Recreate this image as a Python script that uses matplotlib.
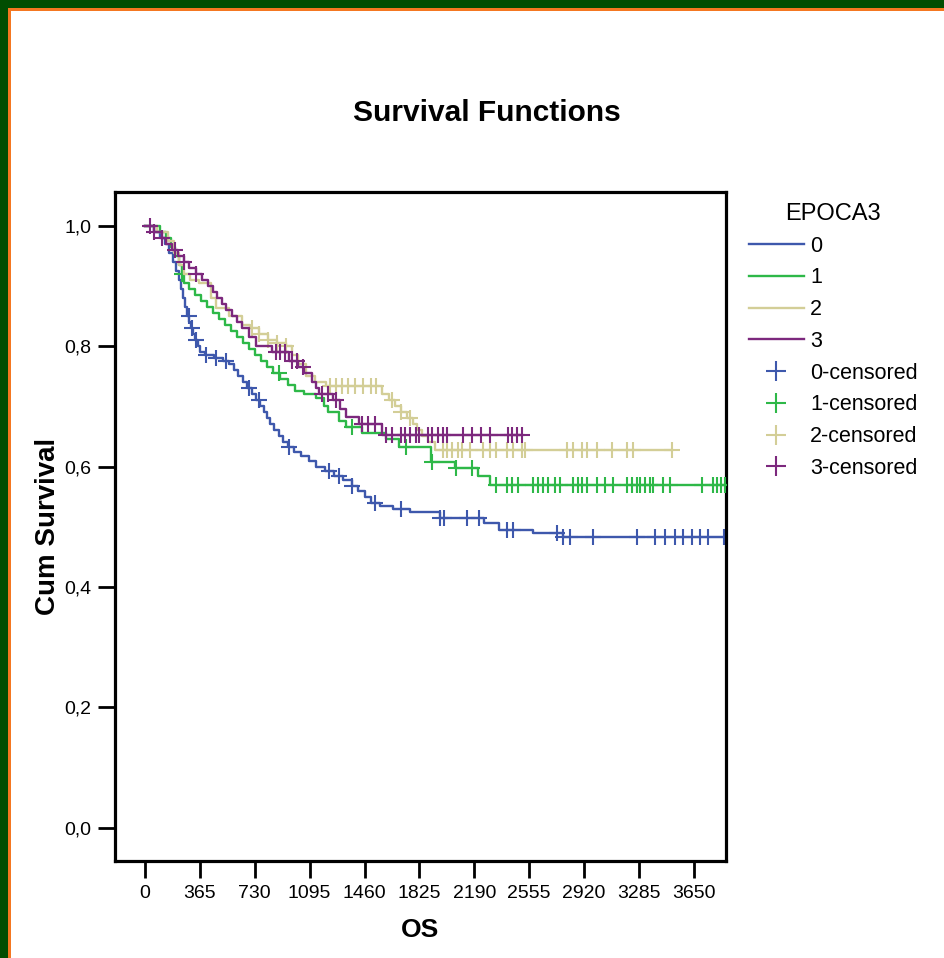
import numpy as np
import matplotlib
matplotlib.use("Agg")
import matplotlib.pyplot as plt
from matplotlib.patches import Rectangle
from matplotlib.lines import Line2D

plt.rcParams['font.family'] = ['Liberation Sans', 'DejaVu Sans']

# ---- data -------------------------------------------------------------
groups = ['0', '1', '2', '3']
colors = ['#3E58AC', '#2EB848', '#D3CE97', '#7C287D']

# event times (days) and survival after each step
t0 = [0, 60, 100, 130, 160, 185, 205, 226, 240, 255, 265, 280, 295, 306, 320,
      335, 350, 365, 400, 460, 520, 560, 590, 620, 650, 680, 710, 740, 765,
      790, 810, 830, 860, 890, 920, 950, 990, 1040, 1090, 1140, 1200, 1260,
      1320, 1380, 1420, 1460, 1500, 1560, 1650, 1760, 1959, 2258, 2358, 2578,
      2778]
s0 = [1.0, 0.99, 0.98, 0.97, 0.955, 0.94, 0.925, 0.91, 0.895, 0.88, 0.865,
      0.85, 0.84, 0.83, 0.82, 0.81, 0.80, 0.79, 0.785, 0.78, 0.775, 0.77,
      0.76, 0.75, 0.74, 0.73, 0.72, 0.71, 0.70, 0.69, 0.68, 0.67, 0.66, 0.65,
      0.64, 0.632, 0.625, 0.617, 0.61, 0.60, 0.592, 0.585, 0.577, 0.568,
      0.56, 0.55, 0.54, 0.535, 0.53, 0.525, 0.514, 0.506, 0.495, 0.49, 0.483]
c0 = [293, 313, 340, 406, 473, 540, 693, 760, 959, 1226, 1290, 1380, 1530,
      1700, 1959, 1992, 2139, 2225, 2405, 2445, 2738, 2778, 2825, 2978, 3271,
      3391, 3458, 3524, 3578, 3638, 3691, 3744, 3850]

t1 = [0, 100, 140, 170, 200, 226, 245, 260, 290, 330, 370, 410, 450, 490,
      530, 570, 610, 650, 690, 730, 770, 810, 850, 900, 950, 1000, 1060, 1140,
      1190, 1220, 1290, 1340, 1446, 1600, 1692, 1905, 2059, 2212, 2292]
s1 = [1.0, 0.99, 0.98, 0.965, 0.95, 0.935, 0.92, 0.905, 0.895, 0.885, 0.875,
      0.865, 0.855, 0.845, 0.835, 0.825, 0.815, 0.805, 0.795, 0.785, 0.775,
      0.765, 0.755, 0.745, 0.735, 0.725, 0.72, 0.714, 0.70, 0.69, 0.675,
      0.665, 0.656, 0.645, 0.633, 0.608, 0.597, 0.584, 0.570]
c1 = [246, 893, 1379, 1739, 1912, 2072, 2178, 2338, 2405, 2438, 2478, 2578,
      2612, 2645, 2678, 2725, 2758, 2845, 2878, 2905, 2938, 3005, 3058, 3111,
      3205, 3238, 3271, 3291, 3325, 3358, 3378, 3444, 3491, 3704, 3778, 3804,
      3831, 3860]

t2 = [0, 80, 150, 190, 226, 260, 300, 360, 440, 473, 560, 646, 700, 760, 820,
      880, 939, 980, 1020, 1073, 1130, 1206, 1578, 1620, 1660, 1700, 1740,
      1780, 1810, 1840, 1880, 1932]
s2 = [1.0, 0.99, 0.975, 0.955, 0.935, 0.92, 0.91, 0.905, 0.88, 0.864, 0.85,
      0.835, 0.83, 0.82, 0.81, 0.805, 0.80, 0.785, 0.77, 0.75, 0.74, 0.733,
      0.72, 0.71, 0.70, 0.69, 0.68, 0.67, 0.66, 0.65, 0.64, 0.628]
c2 = [713, 760, 820, 880, 939, 1230, 1270, 1310, 1350, 1400, 1450, 1500,
      1539, 1640, 1700, 1760, 1979, 2010, 2040, 2080, 2110, 2159, 2245, 2292,
      2338, 2405, 2445, 2505, 2525, 2805, 2845, 2905, 2938, 3005, 3105, 3205,
      3245, 3504]

t3 = [0, 60, 110, 140, 180, 220, 260, 293, 340, 380, 420, 450, 480, 510, 540,
      580, 610, 646, 690, 740, 846, 960, 1020, 1060, 1113, 1140, 1160, 1250,
      1300, 1340, 1426, 1578]
s3 = [1.0, 0.99, 0.98, 0.97, 0.96, 0.95, 0.94, 0.93, 0.92, 0.91, 0.90, 0.89,
      0.88, 0.87, 0.86, 0.85, 0.84, 0.83, 0.815, 0.80, 0.79, 0.775, 0.765,
      0.755, 0.74, 0.73, 0.72, 0.71, 0.695, 0.683, 0.67, 0.653]
c3 = [30, 60, 110, 200, 260, 340, 870, 900, 930, 980, 1010, 1050, 1180, 1220,
      1270, 1440, 1480, 1530, 1600, 1640, 1700, 1730, 1760, 1800, 1820, 1880,
      1910, 1950, 1980, 2010, 2112, 2172, 2238, 2292, 2412, 2440, 2472, 2505]

times = [t0, t1, t2, t3]
surv = [s0, s1, s2, s3]
cens = [c0, c1, c2, c3]

xticks = [0, 365, 730, 1095, 1460, 1825, 2190, 2555, 2920, 3285, 3650]
yticks = [0.0, 0.2, 0.4, 0.6, 0.8, 1.0]

# ---- figure -------------------------------------------------------------
W, H = 944, 958
fig = plt.figure(figsize=(W / 100, H / 100), dpi=100)
fig.patch.set_facecolor('white')

# dark green frame with orange edge (top and left)
def px_rect(x, y, w, h, c):
    fig.add_artist(Rectangle((x / W, 1 - (y + h) / H), w / W, h / H,
                             transform=fig.transFigure, color=c, lw=0))

px_rect(0, 0, W, 11, '#f47721')
px_rect(0, 0, 11, H, '#f47721')
px_rect(0, 0, W, 8, '#014d01')
px_rect(0, 0, 8, H, '#014d01')

ax = fig.add_axes([115 / W, 1 - 861 / H, 611 / W, 669 / H])

for i in range(4):
    t = np.array(times[i] + [max(cens[i])])
    s = np.array(surv[i] + [surv[i][-1]])
    ax.step(t, s, where='post', color=colors[i], lw=1.7, zorder=2 + i)
    tc = np.array(cens[i])
    idx = np.searchsorted(np.array(times[i]), tc, side='right') - 1
    sc = np.array(surv[i])[idx]
    ax.plot(tc, sc, ls='none', marker='+', ms=11, mew=1.5,
            color=colors[i], zorder=2 + i)

ax.set_xlim(-200, 3865)
ax.set_ylim(-0.055, 1.056)
ax.set_xticks(xticks)
ax.set_xticklabels([str(v) for v in xticks], fontsize=14)
ax.set_yticks(yticks)
ax.set_yticklabels([('%.1f' % v).replace('.', ',') for v in yticks],
                   fontsize=14)
ax.tick_params(length=12, width=2, direction='out', pad=5)
for sp in ax.spines.values():
    sp.set_linewidth(2.3)

ax.set_xlabel('OS', fontsize=19, fontweight='bold', labelpad=12)
ax.set_ylabel('Cum Survival', fontsize=20, fontweight='bold', labelpad=2)

fig.text(487 / W, 1 - 113 / H, 'Survival Functions', fontsize=21.5,
         fontweight='bold', ha='center', va='center')

handles = [Line2D([], [], color=c, lw=1.7) for c in colors]
handles += [Line2D([], [], color=c, ls='none', marker='+', ms=15, mew=1.5)
            for c in colors]
labels = groups + [g + '-censored' for g in groups]
leg = fig.legend(handles, labels, title='EPOCA3', loc='upper left',
                 bbox_to_anchor=(738 / W, 1 - 192 / H), frameon=False,
                 fontsize=15.5, title_fontsize=17, handlelength=2.55,
                 handletextpad=0.3, labelspacing=0.5, borderpad=0)

fig.savefig('out.png', dpi=100)
